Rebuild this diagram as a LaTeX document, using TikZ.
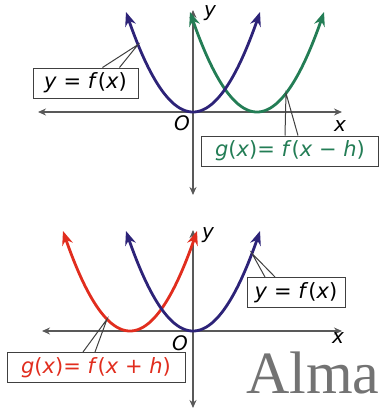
\documentclass[tikz,border=0pt]{standalone}
\usepackage{fontspec}
\setmainfont{DejaVu Sans}
\newfontfamily\almafont{Liberation Serif}
\usetikzlibrary{arrows.meta}
\definecolor{fblue}{RGB}{45,35,120}
\definecolor{ggreen}{RGB}{35,125,85}
\definecolor{gred}{RGB}{225,45,30}
\begin{document}
\begin{tikzpicture}[x=1pt, y=-1pt, >={Stealth[length=8pt,width=7pt]},
    axis/.style={<->, line width=1.4pt, black!65},
    curve/.style={{Stealth[length=14pt,width=11pt]}-{Stealth[length=14pt,width=11pt]}, line width=2.8pt, samples=120},
    lbl/.style={draw=black!75, line width=1pt, fill=white, inner sep=2pt, minimum height=30pt, font=\fontsize{21}{21}\selectfont},
    leader/.style={black!75, line width=1pt},
    axlbl/.style={font=\fontsize{20}{20}\selectfont\itshape, inner sep=1pt}]
    \useasboundingbox (0,0) rectangle (383,413);

    % Upper graph: shift to the right
    \draw[axis] (38,112) -- (342,112);
    \draw[axis] (193,10) -- (193,195);
    \node[axlbl] (xlab1) at (340,126) {x};
    \node[axlbl] (ylab1) at (210,13) {y};
    \node[axlbl] (orig1) at (182,123) {O};

    \draw[curve, ggreen, domain=190:324] plot (\x, {112-0.02228*(\x-257)^2});
    \draw[curve, fblue, domain=126:260] plot (\x, {112-0.02228*(\x-193)^2});

    \node[lbl, minimum width=105pt] (lblF1) at (85.5,83) {\textit{y} = \textit{f}(\textit{x})};
    \node[lbl, minimum width=177pt, text=ggreen] (lblG1) at (290,151) {\textit{g}(\textit{x})= \textit{f}(\textit{x} − \textit{h})};
    \coordinate (pF1) at (138,{112-0.02228*(138-193)^2});
    \coordinate (pG1) at (286,{112-0.02228*(286-257)^2});
    \draw[leader] ([xshift=17pt]lblF1.north) -- (pF1) -- ([xshift=34pt]lblF1.north);
    \draw[leader] ([xshift=-5pt]lblG1.north) -- (pG1) -- ([xshift=8pt]lblG1.north);

    % Lower graph: shift to the left
    \draw[axis] (42,331) -- (342,331);
    \draw[axis] (193,230) -- (193,408);
    \node[axlbl] (xlab2) at (338,338) {x};
    \node[axlbl] (ylab2) at (208,235) {y};
    \node[axlbl] (orig2) at (180,343) {O};

    \draw[curve, gred, domain=63:197] plot (\x, {331-0.02228*(\x-130)^2});
    \draw[curve, fblue, domain=126:260] plot (\x, {331-0.02228*(\x-193)^2});

    \node[lbl, minimum width=98pt] (lblF2) at (296,292.5) {\textit{y} = \textit{f}(\textit{x})};
    \node[lbl, minimum width=178pt, text=gred] (lblG2) at (96,367.5) {\textit{g}(\textit{x})= \textit{f}(\textit{x} + \textit{h})};
    \coordinate (pF2) at (252,{331-0.02228*(252-193)^2});
    \coordinate (pG2) at (107,{331-0.02228*(107-130)^2});
    \draw[leader] ([xshift=-31pt]lblF2.north) -- (pF2) -- ([xshift=-21pt]lblF2.north);
    \draw[leader] ([xshift=-13pt]lblG2.north) -- (pG2) -- ([xshift=-1pt]lblG2.north);

    \node[anchor=base west, inner sep=0, text=black!55, font=\almafont\fontsize{60}{60}\selectfont] (alma) at (246,393) {Alma};
\end{tikzpicture}
\end{document}
